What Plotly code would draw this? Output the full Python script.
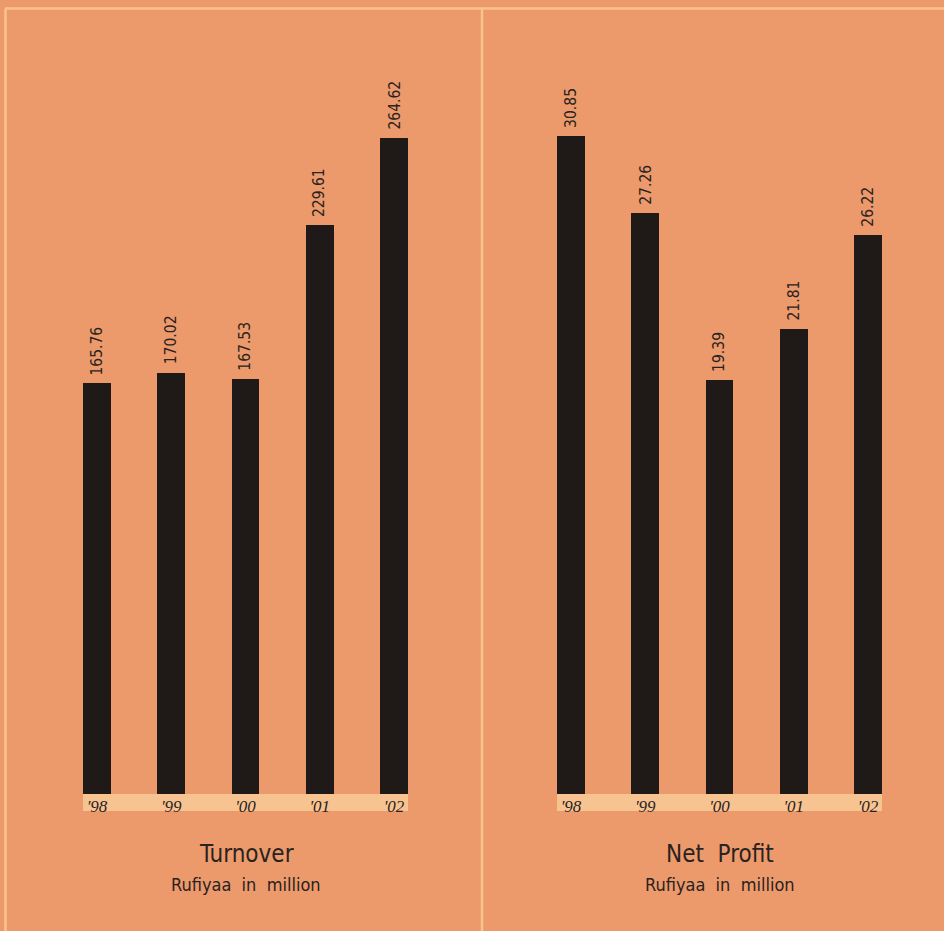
import plotly.graph_objects as go

years = ["'98", "'99", "'00", "'01", "'02"]
turnover = [165.76, 170.02, 167.53, 229.61, 264.62]
net_profit = [30.85, 27.26, 19.39, 21.81, 26.22]

W, H = 944, 931
BG = "#EC9A6C"
BAR = "#1F1A18"
LINE = "#F8C38F"
BAND = "#F7C391"
TXT = "#2A2220"
LABEL_FONT = "DejaVu Sans Condensed, Liberation Sans Narrow, sans-serif"

def px_x(p):
    return p / W

def px_y(p):
    return 1 - p / H

bw = 0.376
fig = go.Figure()
annotations = []
for vals, xa, ya in [(turnover, "x", "y"), (net_profit, "x2", "y2")]:
    xs = list(range(len(years)))
    fig.add_trace(go.Bar(
        x=xs, y=vals, xaxis=xa, yaxis=ya,
        width=bw, marker=dict(color=BAR, line=dict(width=0)),
        hoverinfo="skip", showlegend=False,
    ))
    for xi, v in zip(xs, vals):
        annotations.append(dict(text=f"{v:.2f}", x=xi, y=v, xref=xa, yref=ya,
                                showarrow=False, textangle=-90, xanchor="center", yanchor="bottom",
                                yshift=6, font=dict(family=LABEL_FONT, size=15.5, color=TXT)))

ydom = [px_y(794), px_y(60)]
xr = [-bw / 2, len(years) - 1 + bw / 2]
common_x = dict(range=xr, tickmode="array", tickvals=list(range(len(years))), ticktext=years,
                showgrid=False, zeroline=False, showline=False, ticks="",
                tickfont=dict(family="Liberation Serif, DejaVu Serif, serif", size=17, color=TXT, style="italic"),
                ticklabelstandoff=0)
common_y = dict(domain=ydom, showgrid=False, zeroline=False, showline=False,
                showticklabels=False, ticks="")

fig.update_layout(
    width=W, height=H, paper_bgcolor=BG, plot_bgcolor=BG,
    margin=dict(l=0, r=0, t=0, b=0),
    xaxis=dict(domain=[px_x(83), px_x(408)], anchor="y", **common_x),
    xaxis2=dict(domain=[px_x(557), px_x(882)], anchor="y2", **common_x),
    yaxis=dict(range=[0, 296.1], anchor="x", **common_y),
    yaxis2=dict(range=[0, 34.41], anchor="x2", **common_y),
    bargap=0,
)

shapes = []
for xd in ["x domain", "x2 domain"]:
    shapes.append(dict(type="rect", xref=xd, yref="paper", x0=0, x1=1,
                       y0=px_y(811), y1=px_y(794), fillcolor=BAND, line=dict(width=0), layer="below"))
shapes.append(dict(type="line", xref="paper", yref="paper", x0=px_x(5), x1=1, y0=px_y(8.5), y1=px_y(8.5),
                   line=dict(color=LINE, width=2.5)))
shapes.append(dict(type="line", xref="paper", yref="paper", x0=px_x(5.5), x1=px_x(5.5), y0=0, y1=px_y(8.5),
                   line=dict(color=LINE, width=2.5)))
shapes.append(dict(type="line", xref="paper", yref="paper", x0=px_x(482), x1=px_x(482), y0=0, y1=px_y(8.5),
                   line=dict(color=LINE, width=2.5)))
fig.update_layout(shapes=shapes)

for cx, title in [(246, "Turnover"), (720, "Net&nbsp;&nbsp;Profit")]:
    annotations.append(dict(text=title, x=px_x(cx), y=px_y(854), xref="paper", yref="paper",
                            showarrow=False, xanchor="center", yanchor="middle",
                            font=dict(family=LABEL_FONT, size=24, color=TXT)))
    annotations.append(dict(text="Rufiyaa&nbsp;&nbsp;in&nbsp;&nbsp;million", x=px_x(cx), y=px_y(884), xref="paper", yref="paper",
                            showarrow=False, xanchor="center", yanchor="middle",
                            font=dict(family=LABEL_FONT, size=18, color=TXT)))
fig.update_layout(annotations=annotations)

fig.write_html("out.html", post_script="document.body.style.margin='0';",
               config={"displayModeBar": False})
